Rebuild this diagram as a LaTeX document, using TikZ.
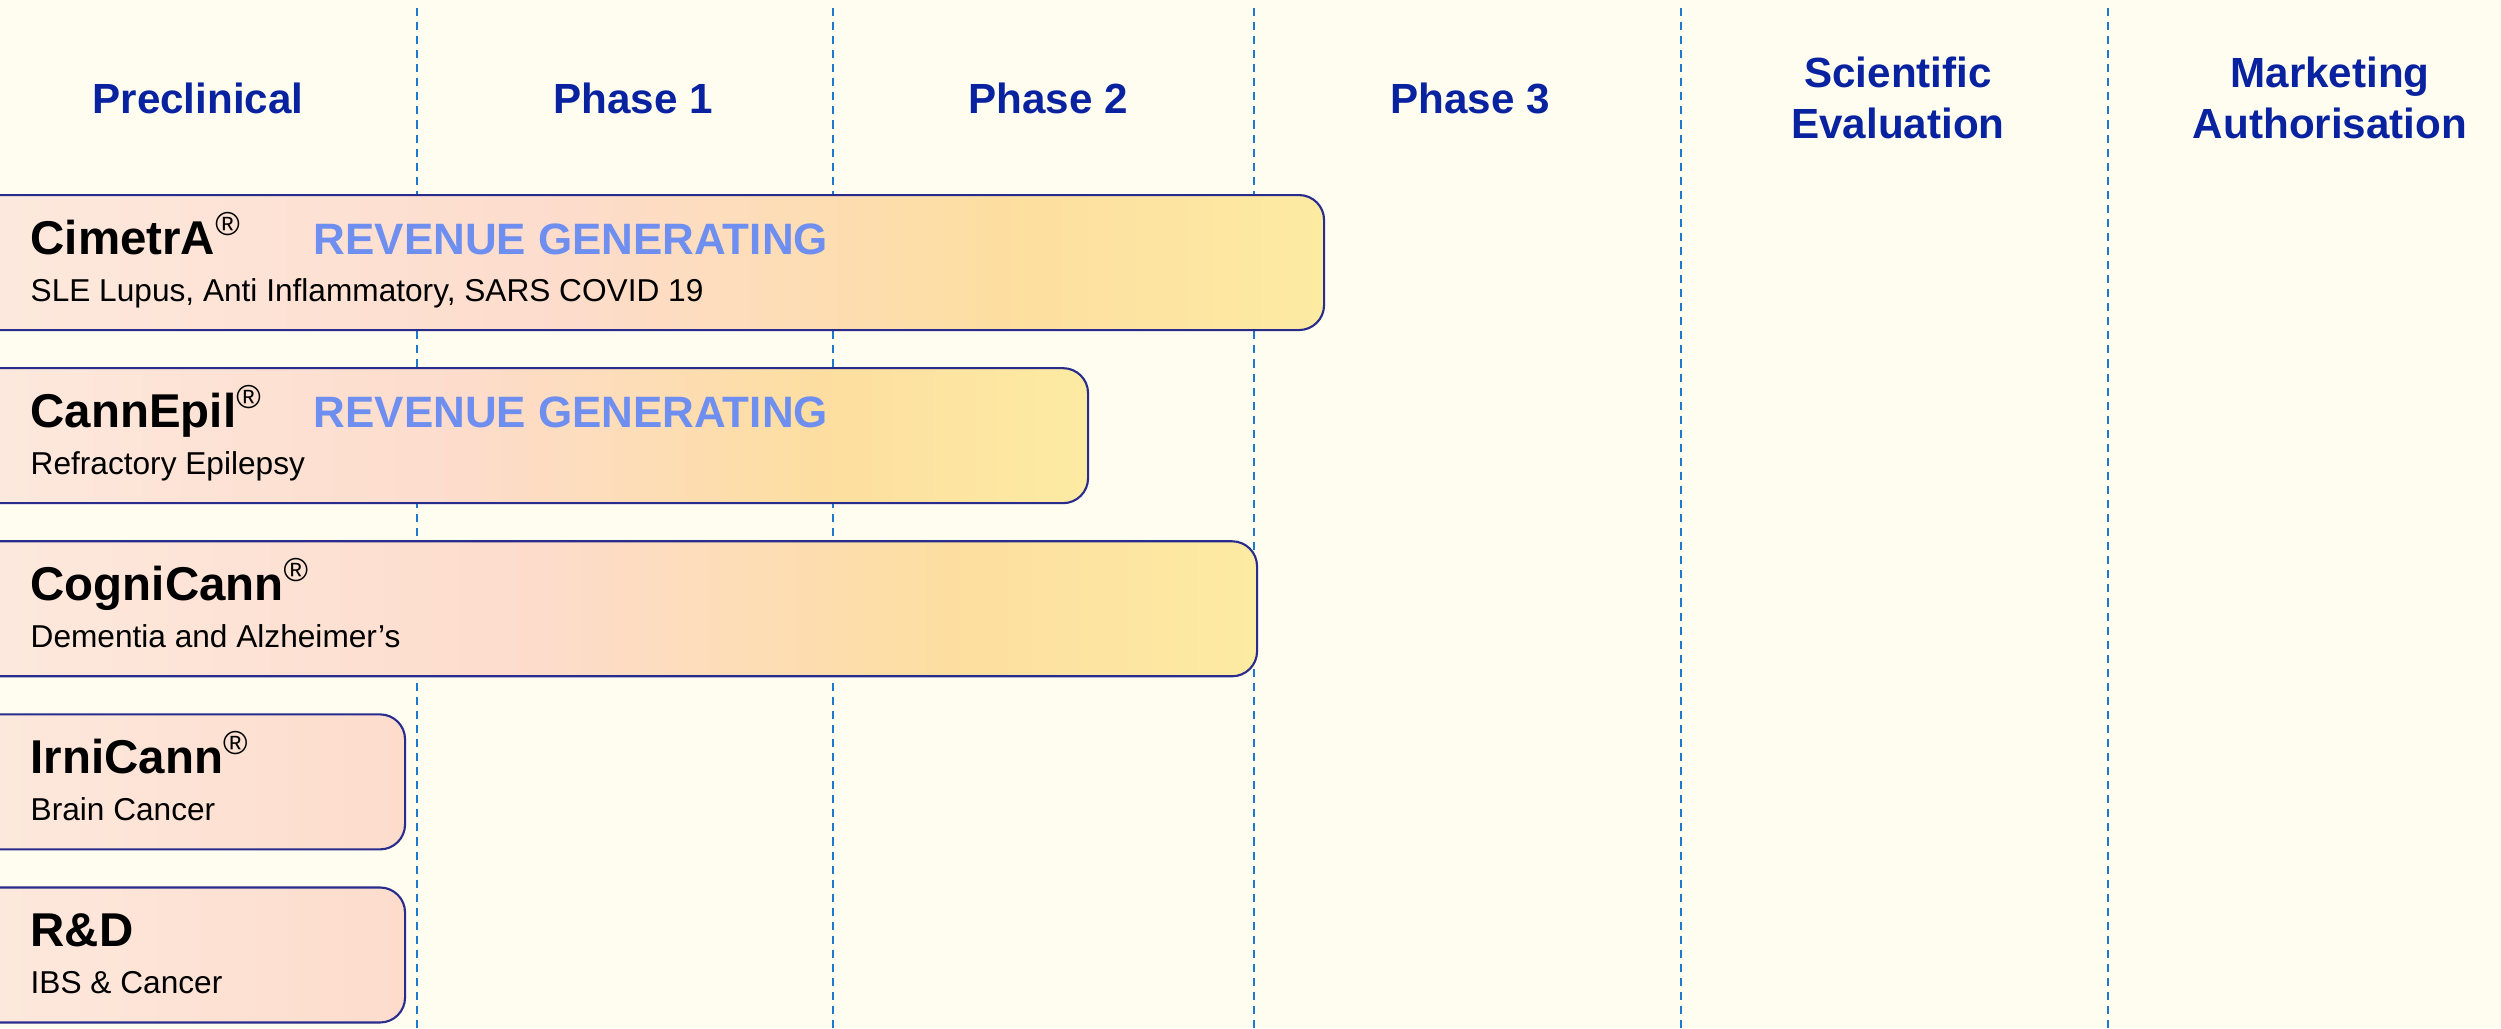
\documentclass[tikz,border=0pt]{standalone}
\usepackage{fontspec}
\setmainfont{Liberation Sans}
\usepackage{tikz}
\usepackage{xcolor}
\usetikzlibrary{positioning}

\definecolor{bgcream}{RGB}{255,252,240}
\definecolor{phaseblue}{RGB}{8,34,160}
\definecolor{revblue}{RGB}{110,142,240}
\definecolor{gridblue}{RGB}{30,120,205}
\definecolor{barline}{RGB}{40,44,140}
\definecolor{peachA}{RGB}{253,233,222}
\definecolor{peachB}{RGB}{253,220,204}
\definecolor{goldC}{RGB}{253,222,160}
\definecolor{goldD}{RGB}{253,235,162}

\pgfdeclarehorizontalshading{barlong}{100bp}{color(0bp)=(peachA); color(25bp)=(peachA);
  color(47bp)=(peachB); color(63bp)=(goldC); color(75bp)=(goldD); color(100bp)=(goldD)}
\pgfdeclarehorizontalshading{barshort}{100bp}{color(0bp)=(peachA); color(25bp)=(peachA);
  color(75bp)=(peachB); color(100bp)=(peachB)}

\newcommand{\regmark}{\textsuperscript{\fontseries{m}\selectfont ®}}

\begin{document}
\begin{tikzpicture}[
        phase/.style={font=\fontsize{12}{14.4}\selectfont\bfseries, text=phaseblue,
                      align=center, inner sep=0pt},
        bar/.style={rectangle, draw=barline, line width=0.6pt, rounded corners=0.25cm,
                    minimum height=1.35cm, inner sep=0pt, shading=barlong},
        shortbar/.style={bar, shading=barshort},
        drug/.style={font=\fontsize{13.5}{16}\selectfont\bfseries, inner sep=0pt},
        indication/.style={font=\fontsize{9}{11}\selectfont, inner sep=0pt},
        revenue/.style={font=\fontsize{12.5}{15}\selectfont\bfseries, text=revblue,
                        inner sep=0pt, anchor=base west},
        grid line/.style={draw=gridblue, line width=0.7pt, dash pattern=on 2.3pt off 1.7pt}
    ]
    \useasboundingbox (0,0) rectangle (25.01,-10.28);
    \fill[bgcream] (0,0) rectangle (25.01,-10.28);
    \clip (0,0) rectangle (25.01,-10.28);

    % Column separators
    \draw [grid line] (4.17,-0.08) -- (4.17,-10.28);
    \draw [grid line] (8.33,-0.08) -- (8.33,-10.28);
    \draw [grid line] (12.54,-0.08) -- (12.54,-10.28);
    \draw [grid line] (16.81,-0.08) -- (16.81,-10.28);
    \draw [grid line] (21.08,-0.08) -- (21.08,-10.28);

    % Column headers
    \node [phase] (preclinical) at (1.98,-0.98) {Preclinical};
    \node [phase] (phase1) at (6.33,-0.98) {Phase 1};
    \node [phase] (phase2) at (10.48,-0.98) {Phase 2};
    \node [phase] (phase3) at (14.70,-0.98) {Phase 3};
    \node [phase] (evaluation) at (18.98,-0.98) {Scientific\\Evaluation};
    \node [phase] (authorisation) at (23.30,-0.98) {Marketing\\Authorisation};

    % Pipeline bars
    \node [bar, anchor=north west, minimum width=13.53cm] (cimetra) at (-0.3,-1.94) {};
    \node [bar, below=0.36cm of cimetra.south west, anchor=north west, minimum width=11.17cm] (cannepil) {};
    \node [bar, below=0.36cm of cannepil.south west, anchor=north west, minimum width=12.86cm] (cognicann) {};
    \node [shortbar, below=0.36cm of cognicann.south west, anchor=north west, minimum width=4.34cm] (irnicann) {};
    \node [shortbar, below=0.36cm of irnicann.south west, anchor=north west, minimum width=4.34cm] (rnd) {};

    % Bar labels
    \node [drug, below right=0.6cm and 0.6cm of cimetra.north west, anchor=base west] (cimetraName) {CimetrA\regmark};
    \node [indication, below right=1.07cm and 0.6cm of cimetra.north west, anchor=base west] (cimetraUse) {SLE Lupus, Anti Inflammatory, SARS COVID 19};
    \node [drug, below right=0.6cm and 0.6cm of cannepil.north west, anchor=base west] (cannepilName) {CannEpil\regmark};
    \node [indication, below right=1.07cm and 0.6cm of cannepil.north west, anchor=base west] (cannepilUse) {Refractory Epilepsy};
    \node [drug, below right=0.6cm and 0.6cm of cognicann.north west, anchor=base west] (cognicannName) {CogniCann\regmark};
    \node [indication, below right=1.07cm and 0.6cm of cognicann.north west, anchor=base west] (cognicannUse) {Dementia and Alzheimer’s};
    \node [drug, below right=0.6cm and 0.6cm of irnicann.north west, anchor=base west] (irnicannName) {IrniCann\regmark};
    \node [indication, below right=1.07cm and 0.6cm of irnicann.north west, anchor=base west] (irnicannUse) {Brain Cancer};
    \node [drug, below right=0.6cm and 0.6cm of rnd.north west, anchor=base west] (rndName) {R\&D};
    \node [indication, below right=1.07cm and 0.6cm of rnd.north west, anchor=base west] (rndUse) {IBS \& Cancer};

    % Revenue tags
    \coordinate (revx) at (3.13,0);
    \node [revenue] (cimetraRev) at (cimetraName.base -| revx) {REVENUE GENERATING};
    \node [revenue] (cannepilRev) at (cannepilName.base -| revx) {REVENUE GENERATING};
\end{tikzpicture}
\end{document}
